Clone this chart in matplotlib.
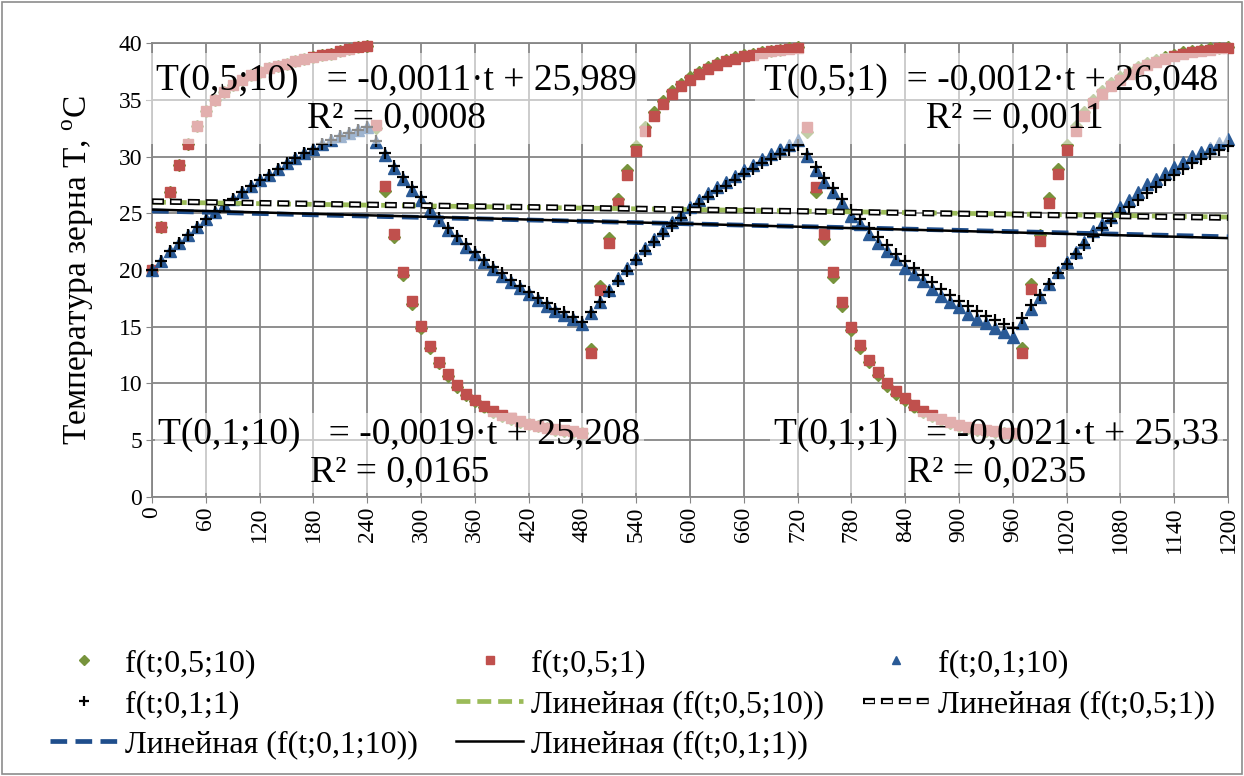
import numpy as np
import matplotlib.pyplot as plt
from matplotlib.patches import Rectangle

plt.rcParams['font.family'] = ['Liberation Serif', 'DejaVu Serif']
plt.rcParams['mathtext.fontset'] = 'custom'
plt.rcParams['mathtext.rm'] = 'Liberation Serif'
plt.rcParams['lines.scale_dashes'] = False

# time axis, step 10
t = np.arange(0, 1201, 10)

# f(t;0,5;10)
f_05_10 = [20, 23.8, 26.85, 29.3, 31.1, 32.7, 34.0, 35.0, 35.7, 36.3, 36.8, 37.2, 37.5,
           37.8, 38.0, 38.2, 38.45, 38.65, 38.8, 38.95, 39.1, 39.3, 39.5, 39.65, 39.8,
           32.5, 27.0, 22.9, 19.6, 17.0, 14.9, 13.1, 11.75, 10.65, 9.7, 9.0, 8.4,
           7.9, 7.5, 7.15, 6.85, 6.6, 6.4, 6.2, 6.05, 5.9, 5.8, 5.7, 5.6,
           13.0, 18.6, 22.8, 26.3, 28.8, 30.9, 32.6, 33.9, 34.9, 35.75, 36.45, 37.0,
           37.5, 37.9, 38.25, 38.5, 38.75, 38.95, 39.1, 39.25, 39.35, 39.45, 39.55, 39.65,
           32.2, 26.9, 22.7, 19.4, 16.85, 14.7, 13.1, 11.85, 10.75, 9.8, 9.1, 8.5,
           7.95, 7.5, 7.1, 6.75, 6.5, 6.25, 6.05, 5.9, 5.8, 5.7, 5.6, 5.55,
           13.1, 18.8, 23.05, 26.35, 28.95, 31.0, 32.7, 33.95, 35.0, 35.8, 36.5, 37.05,
           37.5, 37.9, 38.25, 38.55, 38.8, 39.0, 39.2, 39.35, 39.45, 39.55, 39.6, 39.65]

# f(t;0,5;1)
f_05_1 = [20, 23.8, 26.85, 29.3, 31.1, 32.7, 34.0, 35.0, 35.7, 36.3, 36.8, 37.2, 37.5,
          37.8, 38.0, 38.2, 38.45, 38.65, 38.8, 38.95, 39.1, 39.3, 39.5, 39.65, 39.8,
          32.8, 27.4, 23.2, 19.85, 17.25, 15.1, 13.3, 11.9, 10.8, 9.85, 9.1, 8.5,
          8.0, 7.55, 7.2, 6.9, 6.65, 6.45, 6.25, 6.1, 5.95, 5.85, 5.75, 5.65,
          12.7, 18.2, 22.4, 25.9, 28.4, 30.5, 32.3, 33.6, 34.65, 35.5, 36.25, 36.8,
          37.3, 37.75, 38.1, 38.4, 38.65, 38.85, 39.0, 39.15, 39.3, 39.4, 39.5, 39.6,
          32.6, 27.3, 23.15, 19.8, 17.2, 15.0, 13.4, 12.1, 11.0, 10.0, 9.3, 8.7,
          8.1, 7.6, 7.2, 6.85, 6.6, 6.35, 6.15, 6.0, 5.85, 5.75, 5.65, 5.6,
          12.7, 18.3, 22.6, 25.9, 28.5, 30.6, 32.3, 33.6, 34.7, 35.5, 36.2, 36.8,
          37.3, 37.7, 38.05, 38.35, 38.6, 38.85, 39.05, 39.2, 39.35, 39.45, 39.55, 39.6]

# f(t;0,1;10)
f_01_10 = [20, 20.8, 21.65, 22.4, 23.1, 23.8, 24.5, 25.1, 25.7, 26.3, 26.85, 27.4, 27.9,
           28.4, 28.9, 29.4, 29.9, 30.3, 30.7, 31.1, 31.5, 31.8, 32.05, 32.35, 32.6,
           31.3, 30.15, 29.0, 28.0, 27.1, 26.2, 25.3, 24.4, 23.5, 22.8, 22.05, 21.4,
           20.7, 20.05, 19.5, 18.9, 18.4, 17.85, 17.35, 16.85, 16.4, 16.05, 15.65, 15.2,
           16.2, 17.2, 18.2, 19.25, 20.2, 21.1, 21.9, 22.7, 23.5, 24.2, 24.9, 25.6,
           26.2, 26.8, 27.3, 27.8, 28.3, 28.8, 29.3, 29.8, 30.2, 30.7, 31.0, 31.45,
           30.1, 28.8, 27.8, 26.9, 25.9, 24.8, 24.05, 23.2, 22.4, 21.7, 20.95, 20.2,
           19.65, 19.0, 18.35, 17.7, 17.2, 16.7, 16.15, 15.7, 15.3, 14.9, 14.5, 14.1,
           15.35, 16.6, 17.65, 18.8, 19.8, 20.7, 21.6, 22.5, 23.4, 24.1, 24.7, 25.6,
           26.2, 26.85, 27.6, 28.0, 28.6, 29.1, 29.55, 30.05, 30.45, 30.8, 31.2, 31.6]

# f(t;0,1;1)
f_01_1 = [20, 20.8, 21.65, 22.4, 23.1, 23.8, 24.5, 25.1, 25.7, 26.3, 26.85, 27.4, 27.9,
          28.4, 28.9, 29.4, 29.9, 30.3, 30.7, 31.1, 31.5, 31.8, 32.05, 32.35, 32.6,
          31.4, 30.3, 29.2, 28.2, 27.3, 26.4, 25.5, 24.6, 23.7, 23.0, 22.25, 21.6,
          20.9, 20.25, 19.7, 19.1, 18.6, 18.05, 17.55, 17.05, 16.6, 16.25, 15.85, 15.4,
          16.3, 17.2, 18.1, 19.05, 19.95, 20.85, 21.65, 22.45, 23.2, 23.9, 24.6, 25.25,
          25.85, 26.45, 26.95, 27.45, 27.95, 28.45, 28.9, 29.4, 29.8, 30.25, 30.6, 31.0,
          30.2, 29.1, 28.1, 27.2, 26.3, 25.3, 24.5, 23.7, 22.9, 22.2, 21.45, 20.75,
          20.15, 19.55, 18.9, 18.3, 17.8, 17.3, 16.8, 16.35, 15.95, 15.55, 15.2, 14.9,
          15.8, 16.9, 17.8, 18.8, 19.7, 20.55, 21.4, 22.2, 23.0, 23.7, 24.35, 25.0,
          25.6, 26.2, 26.8, 27.35, 27.9, 28.4, 28.9, 29.4, 29.8, 30.2, 30.6, 30.95]

series_labels = ['f(t;0,5;10)', 'f(t;0,5;1)', 'f(t;0,1;10)', 'f(t;0,1;1)']

# linear trends T = k*t + b
trend_k = [-0.0011, -0.0012, -0.0019, -0.0021]
trend_b = [25.989, 26.048, 25.208, 25.33]
trend_labels = ['Линейная (f(t;0,5;10))', 'Линейная (f(t;0,5;1))',
                'Линейная (f(t;0,1;10))', 'Линейная (f(t;0,1;1))']
eq_texts = ['T(0,5;10)   = -0,0011·t + 25,989\nR² = 0,0008',
            'T(0,5;1)  = -0,0012·t + 26,048\n     R² = 0,0011',
            'T(0,1;10)   = -0,0019·t + 25,208\nR² = 0,0165',
            'T(0,1;1)   = -0,0021·t + 25,33\nR² = 0,0235']
eq_pos = [(273, 35.1), (936, 35.1), (276, 3.85), (942, 3.85)]
eq_pad = [0.25, 0.25, 0.1, 0.1]

green = '#77933c'
red = '#c0504d'
blue = '#2a5a96'
gray = '#868686'

fig = plt.figure(figsize=(12.44, 7.76), dpi=100)
ax = fig.add_axes([0.1222, 0.36, 0.8649, 0.5842])

h1, = ax.plot(t, f_05_10, 'D', color=green, ms=6.5, ls='none', clip_on=False, zorder=3)
h2, = ax.plot(t, f_05_1, 's', color=red, ms=7.5, ls='none', clip_on=False, zorder=3)
h3, = ax.plot(t, f_01_10, '^', color=blue, ms=8.5, ls='none', clip_on=False, zorder=3)
h4, = ax.plot(t, f_01_1, '+', color='black', ms=9, mew=1.6, ls='none', clip_on=False, zorder=3)

tl = np.array([0, 1200])
l1, = ax.plot(tl, trend_k[0] * tl + trend_b[0], color='#9bbb59', lw=3.4,
              ls=(0, (10, 5)), zorder=4)
l2a, = ax.plot(tl, trend_k[1] * tl + trend_b[1], color='black', lw=4.5,
               ls=(0, (8.6, 4.3)), zorder=4)
l2b, = ax.plot(tl, trend_k[1] * tl + trend_b[1], color='white', lw=2.0,
               ls=(11.8, (6.4, 6.5)), zorder=4)
l3, = ax.plot(tl, trend_k[2] * tl + trend_b[2], color='#1f4e8c', lw=3.4,
              ls=(0, (12, 6)), zorder=4)
l4, = ax.plot(tl, trend_k[3] * tl + trend_b[3], color='black', lw=1.8, zorder=4)

for txt, (x, y), p in zip(eq_texts, eq_pos, eq_pad):
    ax.text(x, y, txt, ha='center', va='center', multialignment='center',
            fontsize=27, linespacing=1.1, zorder=6,
            bbox=dict(boxstyle='square,pad=%s' % p, fc='white', ec='none', alpha=0.55))

ax.set_xlim(0, 1200)
ax.set_ylim(0, 40)
ax.set_xticks(np.arange(0, 1201, 60))
ax.set_yticks(np.arange(0, 41, 5))
ax.tick_params(axis='x', labelrotation=90, labelsize=17, length=4, color=gray, pad=3)
ax.tick_params(axis='y', labelsize=17, length=4, color=gray, pad=3)
ax.grid(True, color=gray, lw=1.3)
ax.set_axisbelow(True)
for s in ax.spines.values():
    s.set_color(gray)
    s.set_linewidth(1.3)

ax.set_ylabel(r'Температура зерна T, $^{\mathregular{o}}$С', fontsize=24, labelpad=16)

# legend filled row-wise (3 columns)
handles = [h1, h2, h3, h4, l1, (l2a, l2b), l3, l4]
labels = series_labels + trend_labels
order = [0, 3, 6, 1, 4, 7, 2, 5]
fig.legend([handles[i] for i in order], [labels[i] for i in order],
           loc='upper left', bbox_to_anchor=(0.03, 0.18), ncol=3, fontsize=23,
           frameon=False, handlelength=2.1, handletextpad=0.25, columnspacing=1.2,
           labelspacing=0.35, markerscale=0.75, borderaxespad=0)

fig.add_artist(Rectangle((0.0015, 0.002), 0.997, 0.996, transform=fig.transFigure,
                         fill=False, ec='#8c8c8c', lw=1.2))

fig.savefig('out.png', dpi=100)
